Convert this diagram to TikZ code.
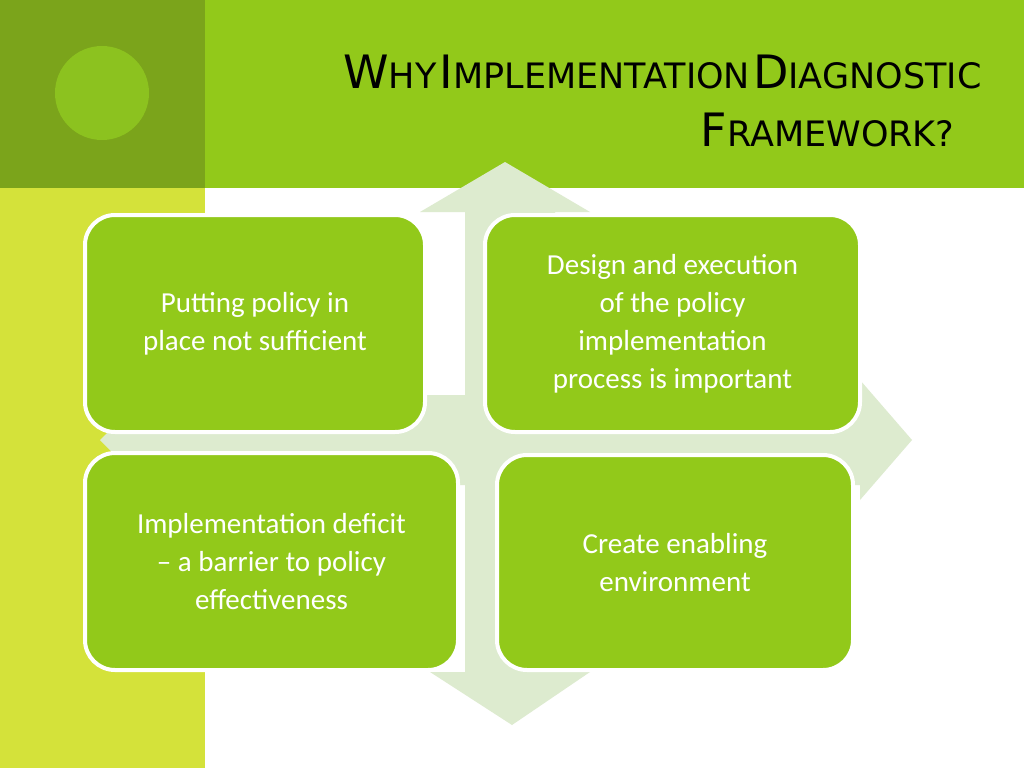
\documentclass[tikz,border=0pt]{standalone}
\usepackage{fontspec}
\setmainfont{Carlito}
\newfontfamily\titlefont{DejaVu Sans}
\definecolor{leafgreen}{HTML}{92C91A}
\definecolor{darkleaf}{HTML}{7BA41B}
\definecolor{dotgreen}{HTML}{8CC21F}
\definecolor{limestrip}{HTML}{D4E23A}
\definecolor{palecross}{HTML}{DDEBCF}
\newcommand{\bigsc}[2]{{\fontsize{46}{46}\selectfont #1}{\fontsize{35}{35}\selectfont #2}}
\tikzset{
  panel/.style={draw=white, line width=4pt, fill=leafgreen, rounded corners=30pt,
    text=white, align=center, inner sep=0pt,
    font=\fontsize{29}{38}\selectfont}
}
\begin{document}
\begin{tikzpicture}[x=1pt,y=-1pt]
\useasboundingbox (0,0) rectangle (1024,768);
\fill[white] (0,0) rectangle (1024,768);
% header band and side strip
\fill[leafgreen] (0,0) rectangle (1024,188);
\fill[darkleaf] (0,0) rectangle (205,188);
\fill[dotgreen] (102,93) circle (47);
\fill[limestrip] (0,188) rectangle (205,768);
% title
\node[anchor=east, font=\titlefont] (title1) at (985,72) {\bigsc{W}{HY} \bigsc{I}{MPLEMENTATION} \bigsc{D}{IAGNOSTIC}};
\node[anchor=east, font=\titlefont] (title2) at (958,130) {\bigsc{F}{RAMEWORK?}};
% background cross
\fill[palecross] (505,162) -- (590,212) -- (555,212) -- (555,395) -- (860,395) -- (860,380)
  -- (912,440) -- (860,500) -- (860,485) -- (555,485) -- (555,672) -- (590,672)
  -- (512,725) -- (430,672) -- (465,672) -- (465,485) -- (160,485) -- (160,500)
  -- (100,440) -- (160,380) -- (160,395) -- (465,395) -- (465,212) -- (420,212) -- cycle;
% panels
\node[panel, minimum width=340pt, minimum height=217pt] (putting) at (255,323.5) {Putting policy in\\place not sufficient};
\node[panel, minimum width=375pt, minimum height=217pt] (design) at (672.5,323.5) {Design and execution\\of the policy\\implementation\\process is important};
\node[panel, minimum width=373pt, minimum height=217pt] (deficit) at (271.5,561.5) {Implementation deficit\\– a barrier to policy\\effectiveness};
\node[panel, minimum width=356pt, minimum height=215pt] (enabling) at (675,562.5) {Create enabling\\environment};
\end{tikzpicture}
\end{document}
